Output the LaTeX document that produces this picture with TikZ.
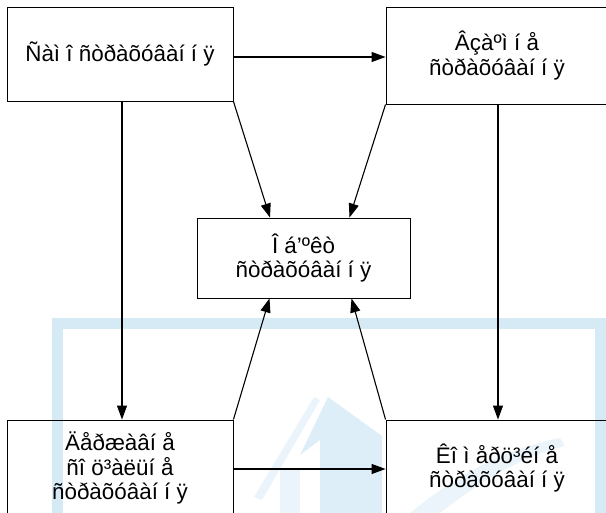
\documentclass[tikz,border=0pt]{standalone}
\usepackage{fontspec}
\setmainfont{Liberation Sans}
\usetikzlibrary{arrows.meta}
\definecolor{wm}{RGB}{214,234,246}
\definecolor{wmmid}{RGB}{222,238,248}
\definecolor{wmlight}{RGB}{234,244,250}
\tikzset{
  box/.style={draw=black, line width=0.9pt, align=center, font=\fontsize{22.4}{24.5}\selectfont, inner sep=0pt},
  conn/.style={line width=1.1pt, -{Triangle[length=14pt,width=10pt]}},
}
\begin{document}
\begin{tikzpicture}[x=1pt,y=-1pt]
\useasboundingbox (0,0) rectangle (606,513);
% watermark
\fill[wmlight] (280,470) -- (280,513) -- (300,513) -- (300,470) -- cycle;
\fill[wmmid] (328,397) -- (382,436) -- (382,513) -- (320,513) -- (320,440) -- (300,455) -- cycle;
\fill[wmlight] (314,397) -- (320,400) -- (262,500) -- (254,497) -- cycle;
\fill[wmlight] (410,513) .. controls (450,480) and (500,450) .. (560,438) -- (565,446) .. controls (510,460) and (470,490) .. (440,513) -- cycle;
\draw[wm, line width=11pt] (57.5,323.5) rectangle (600.5,560);
% boxes
\node[box, minimum width=226pt, minimum height=94pt] (b1) at (120,54) {Ñàì î ñòðàõóâàí í ÿ};
\node[box, minimum width=222pt, minimum height=97pt] (b2) at (497,55.5) {Âçàºì í å\\ñòðàõóâàí í ÿ};
\node[box, minimum width=213pt, minimum height=80pt] (c) at (303.5,258) {Î á’ºêò\\ñòðàõóâàí í ÿ};
\node[box, minimum width=226pt, minimum height=96pt] (b4) at (120,468) {Äåðæàâí å\\ñî ö³àëüí å\\ñòðàõóâàí í ÿ};
\node[box, minimum width=222pt, minimum height=96pt] (b5) at (497,468) {Êî ì åðö³éí å\\ñòðàõóâàí í ÿ};
% connectors
\draw[conn] (b1.east |- 0,57) -- (b2.west |- 0,57);
\draw[conn] ([xshift=2pt]b1.south) -- ([xshift=2pt]b4.north);
\draw[conn] ([xshift=1pt]b2.south) -- ([xshift=1pt]b5.north);
\draw[conn] (b1.south east) -- ([xshift=-33.5pt]c.north);
\draw[conn] (b2.south west) -- ([xshift=46pt]c.north);
\draw[conn] (b4.north east) -- ([xshift=-34pt]c.south);
\draw[conn] (b5.north west) -- ([xshift=48pt]c.south);
\draw[conn] (b4.east |- 0,469) -- (b5.west |- 0,469);
\end{tikzpicture}
\end{document}
